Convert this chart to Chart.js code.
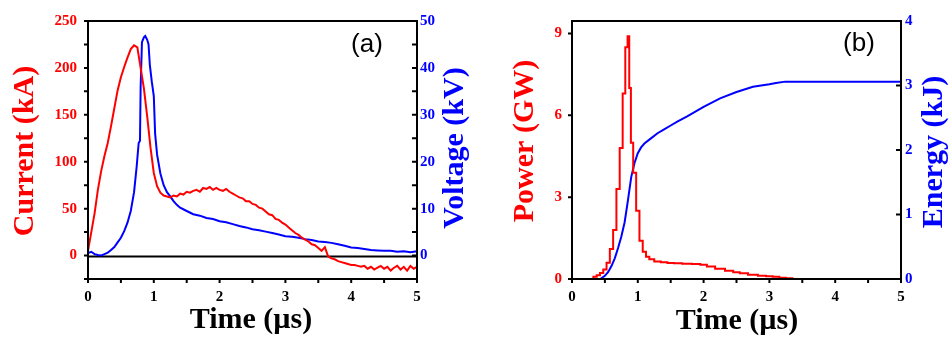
<!DOCTYPE html>
<html>
<head>
<meta charset="utf-8">
<script src="https://cdn.jsdelivr.net/npm/chart.js"></script>
<style>
  html, body { margin: 0; padding: 0; background: #fff; }
  #wrap { position: relative; width: 949px; height: 340px; overflow: hidden; }
  canvas { position: absolute; top: 0; }
</style>
</head>
<body>
<div id="wrap">
  <canvas id="chartA" width="475" height="340" style="left:0"></canvas>
  <canvas id="chartB" width="474" height="340" style="left:475px"></canvas>
</div>
<script>
// panel (a): current and voltage vs time (us)
const timeA = [0, 0.05, 0.1, 0.15, 0.2, 0.25, 0.3, 0.35, 0.4, 0.45, 0.5, 0.55, 0.6, 0.65, 0.7, 0.75, 0.8, 0.85, 0.9, 0.95,
  1.0, 1.05, 1.1, 1.15, 1.2, 1.25, 1.3, 1.35, 1.4, 1.45, 1.5, 1.55, 1.6, 1.65, 1.7, 1.75, 1.8, 1.85, 1.9, 1.95,
  2.0, 2.05, 2.1, 2.15, 2.2, 2.25, 2.3, 2.35, 2.4, 2.45, 2.5, 2.55, 2.6, 2.65, 2.7, 2.75, 2.8, 2.85, 2.9, 2.95,
  3.0, 3.05, 3.1, 3.15, 3.2, 3.25, 3.3, 3.35, 3.4, 3.45, 3.5, 3.55, 3.6, 3.65, 3.7, 3.75, 3.8, 3.85, 3.9, 3.95,
  4.0, 4.05, 4.1, 4.15, 4.2, 4.25, 4.3, 4.35, 4.4, 4.45, 4.5, 4.55, 4.6, 4.65, 4.7, 4.75, 4.8, 4.85, 4.9, 4.95, 5.0];
const currentKA = [5, 25, 45, 70, 90, 106, 120, 138, 157, 176, 190, 201, 211, 220, 224, 222, 200, 178, 148, 115,
  88, 74, 67, 64, 63, 62, 64, 63, 66, 65, 68, 67, 69, 70, 68, 72, 71, 73, 70, 72,
  70, 69, 71, 68, 66, 64, 62, 61, 58, 58, 55, 54, 51, 50, 47, 44, 43, 39, 38, 35,
  33, 30, 27, 24, 22, 19, 17, 15, 12, 11, 8, 5, 9, -1, -3, -4, -6, -7, -8, -9,
  -10, -10, -11, -12, -11, -14, -12, -15, -13, -11, -14, -12, -16, -13, -11, -15, -12, -16, -11, -14, -12];

const voltTime = [0, 0.05, 0.1, 0.15, 0.2, 0.25, 0.3, 0.35, 0.4, 0.45, 0.5, 0.55, 0.6, 0.65, 0.7, 0.74, 0.77, 0.79, 0.8, 0.82,
  0.85, 0.87, 0.9, 0.92, 0.94, 0.97, 1.0, 1.02, 1.05, 1.1, 1.15, 1.2, 1.25, 1.3, 1.35, 1.4, 1.5, 1.6, 1.7, 1.8,
  1.9, 2.0, 2.1, 2.2, 2.3, 2.4, 2.5, 2.6, 2.7, 2.8, 2.9, 3.0, 3.1, 3.2, 3.3, 3.4, 3.5, 3.6, 3.7, 3.8,
  3.9, 4.0, 4.1, 4.2, 4.3, 4.4, 4.5, 4.6, 4.7, 4.8, 4.9, 5.0];
const voltageKV = [0.5, 0.8, 0.3, 0.1, 0, 0.3, 0.6, 1.2, 1.8, 2.8, 3.8, 5.2, 7, 9.5, 13.5, 19, 24, 24.5, 36, 45.5,
  46.5, 46.8, 46, 45, 40.6, 37, 34, 26, 21.5, 17.5, 15, 13.5, 12.6, 11.6, 10.8, 10.2, 9.5, 8.8, 8.5, 8.0,
  7.8, 7.3, 7.1, 6.7, 6.3, 6.0, 5.6, 5.4, 5.1, 4.8, 4.5, 4.1, 4.0, 3.8, 3.5, 3.3, 3.0, 2.9, 2.7, 2.4,
  2.1, 1.7, 1.6, 1.4, 1.2, 1.1, 1.0, 1.0, 0.8, 0.9, 0.7, 0.9];

// panel (b): power and energy vs time (us)
const powerTime = [0, 0.3, 0.35, 0.4, 0.45, 0.5, 0.55, 0.6, 0.65, 0.7, 0.75, 0.79, 0.83, 0.86, 0.88, 0.91, 0.95, 1.0, 1.05, 1.1,
  1.15, 1.2, 1.3, 1.4, 1.5, 1.6, 1.75, 1.9, 2.0, 2.1, 2.25, 2.4, 2.5, 2.6, 2.75, 2.9, 3.0, 3.1, 3.2, 3.3, 3.4, 5];
const powerGW = [0, 0, 0.08, 0.14, 0.22, 0.35, 0.6, 1.1, 1.8, 3.3, 4.8, 6.8, 8.5, 8.9, 7.0, 5.0, 3.9, 2.5, 1.4, 1.0,
  0.82, 0.72, 0.64, 0.61, 0.59, 0.58, 0.56, 0.55, 0.52, 0.46, 0.38, 0.3, 0.25, 0.21, 0.16, 0.12, 0.1, 0.08, 0.05, 0.03, 0, 0];

const energyTime = [0, 0.43, 0.5, 0.55, 0.6, 0.65, 0.7, 0.75, 0.8, 0.85, 0.9, 0.95, 1.0, 1.05, 1.1, 1.2, 1.3, 1.4, 1.5, 1.6,
  1.75, 2.0, 2.25, 2.5, 2.75, 3.0, 3.1, 3.24, 5];
const energyKJ = [0, 0, 0.05, 0.11, 0.2, 0.32, 0.48, 0.66, 0.88, 1.22, 1.58, 1.8, 1.95, 2.04, 2.1, 2.18, 2.26, 2.32, 2.38, 2.44,
  2.52, 2.67, 2.8, 2.9, 2.98, 3.02, 3.04, 3.06, 3.06];

// tick values
const timeTicks = [0, 1, 2, 3, 4, 5];
const timeMinor = [0.5, 1.5, 2.5, 3.5, 4.5];
const currentTicks = [0, 50, 100, 150, 200, 250];
const currentMinor = [-25, 25, 75, 125, 175, 225];
const voltageTicks = [0, 10, 20, 30, 40, 50];
const voltageMinor = [-5, 5, 15, 25, 35, 45];
const powerTicks = [0, 3, 6, 9];
const energyTicks = [0, 1, 2, 3, 4];

const RED = '#ff0000';
const BLUE = '#0000ff';
const SERIF = '"Liberation Serif", "Times New Roman", serif';

const pts = (xs, ys) => xs.map((x, i) => ({ x: x, y: ys[i] }));

// draws the boxed frame, ticks, labels and titles (Origin-like style)
const frameAxes = {
  id: 'frameAxes',
  beforeDatasetsDraw(chart, args, o) {
    if (!o.zeroLine) return;
    const ctx = chart.ctx, a = chart.chartArea;
    const py = Math.round(chart.scales.yL.getPixelForValue(0)) + 0.5;
    ctx.save();
    ctx.strokeStyle = '#000';
    ctx.lineWidth = 2;
    ctx.beginPath();
    ctx.moveTo(a.left, py);
    ctx.lineTo(a.right, py);
    ctx.stroke();
    ctx.restore();
  },
  afterDraw(chart, args, o) {
    const ctx = chart.ctx, a = chart.chartArea;
    const sx = chart.scales.x, yl = chart.scales.yL, yr = chart.scales.yR;
    ctx.save();
    ctx.strokeStyle = '#000';
    ctx.lineWidth = 2;
    ctx.strokeRect(a.left, a.top, a.right - a.left, a.bottom - a.top);

    ctx.beginPath();
    o.xTicks.concat(o.xMinor).forEach(v => {
      const px = sx.getPixelForValue(v);
      ctx.moveTo(px, a.bottom);
      ctx.lineTo(px, a.bottom + 4);
    });
    o.leftTicks.concat(o.leftMinor).forEach(v => {
      const py = yl.getPixelForValue(v);
      ctx.moveTo(a.left - 4, py);
      ctx.lineTo(a.left, py);
    });
    o.rightTicks.concat(o.rightMinor).forEach(v => {
      const py = yr.getPixelForValue(v);
      ctx.moveTo(a.right - 5, py);
      ctx.lineTo(a.right, py);
    });
    ctx.stroke();

    // tick labels
    ctx.font = 'bold 15px ' + SERIF;
    ctx.textBaseline = 'middle';
    ctx.fillStyle = '#000';
    ctx.textAlign = 'center';
    o.xTicks.forEach(v => ctx.fillText(String(v), sx.getPixelForValue(v), 297));
    ctx.fillStyle = RED;
    ctx.textAlign = 'right';
    o.leftTicks.forEach(v => ctx.fillText(String(v), a.left - o.leftGap, yl.getPixelForValue(v)));
    ctx.fillStyle = BLUE;
    ctx.textAlign = 'left';
    o.rightTicks.forEach(v => ctx.fillText(String(v), a.right + o.rightGap, yr.getPixelForValue(v)));

    // axis titles
    ctx.font = 'bold 30px ' + SERIF;
    ctx.textAlign = 'center';
    ctx.fillStyle = '#000';
    ctx.fillText(o.xTitle[0], o.xTitle[1], o.xTitle[2]);
    [[o.leftTitle, RED], [o.rightTitle, BLUE]].forEach(([t, c]) => {
      ctx.save();
      ctx.translate(t[1], t[2]);
      ctx.rotate(-Math.PI / 2);
      ctx.fillStyle = c;
      ctx.fillText(t[0], 0, 0);
      ctx.restore();
    });

    // panel tag
    ctx.font = '26px "Liberation Sans", Arial, sans-serif';
    ctx.fillStyle = '#000';
    ctx.fillText(o.tag[0], o.tag[1], o.tag[2]);
    ctx.restore();
  }
};

function makeChart(id, datasets, ranges, padding, frame) {
  return new Chart(document.getElementById(id), {
    type: 'line',
    data: { datasets: datasets },
    options: {
      responsive: false,
      animation: false,
      devicePixelRatio: 1,
      layout: { padding: padding },
      plugins: { legend: { display: false }, tooltip: { enabled: false }, frameAxes: frame },
      elements: { point: { radius: 0 }, line: { borderWidth: 2, tension: 0 } },
      scales: {
        x: { type: 'linear', min: 0, max: 5, display: false },
        yL: { type: 'linear', position: 'left', min: ranges[0], max: ranges[1], display: false },
        yR: { type: 'linear', position: 'right', min: ranges[2], max: ranges[3], display: false }
      }
    },
    plugins: [frameAxes]
  });
}

makeChart('chartA', [
  { data: pts(timeA, currentKA), borderColor: RED, yAxisID: 'yL' },
  { data: pts(voltTime, voltageKV), borderColor: BLUE, yAxisID: 'yR' }
], [-25, 250, -5, 50], { left: 88, right: 58, top: 21, bottom: 61 }, {
  zeroLine: true,
  xTicks: timeTicks, xMinor: timeMinor,
  leftTicks: currentTicks, leftMinor: currentMinor, leftGap: 11,
  rightTicks: voltageTicks, rightMinor: voltageMinor, rightGap: 3,
  xTitle: ['Time (\u00b5s)', 251, 320],
  leftTitle: ['Current (kA)', 25, 151],
  rightTitle: ['Voltage (kV)', 455, 148],
  tag: ['(a)', 367, 45]
});

makeChart('chartB', [
  { data: pts(powerTime, powerGW), borderColor: RED, yAxisID: 'yL', stepped: 'middle' },
  { data: pts(energyTime, energyKJ), borderColor: BLUE, yAxisID: 'yR' }
], [0, 9.46, 0, 4], { left: 97, right: 48, top: 21, bottom: 61 }, {
  zeroLine: false,
  xTicks: timeTicks, xMinor: timeMinor,
  leftTicks: powerTicks, leftMinor: [], leftGap: 10,
  rightTicks: energyTicks, rightMinor: [], rightGap: 4,
  xTitle: ['Time (\u00b5s)', 262, 321],
  leftTitle: ['Power (GW)', 50, 141],
  rightTitle: ['Energy (kJ)', 459, 152],
  tag: ['(b)', 384, 44]
});
</script>
</body>
</html>
